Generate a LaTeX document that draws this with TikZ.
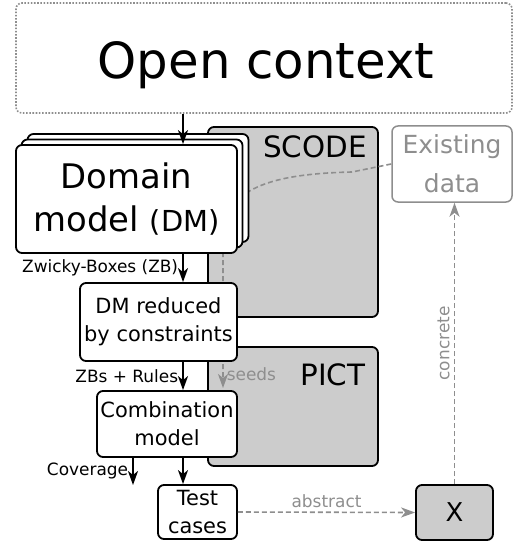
\documentclass[tikz,border=0pt]{standalone}
\usepackage{fontspec}
\setmainfont{DejaVu Sans}
\usetikzlibrary{positioning,arrows.meta}
\definecolor{toolgray}{HTML}{CCCCCC}
\definecolor{linkgray}{HTML}{8E8E8E}

\begin{document}
\begin{tikzpicture}[x=1bp, y=-1bp,
    box/.style={draw, fill=white, rounded corners=6bp, line width=1.8bp, align=center, inner sep=0pt},
    toolbox/.style={draw, fill=toolgray, rounded corners=6bp, line width=1.8bp, inner sep=0pt},
    flow/.style={-{Stealth[length=14bp,width=10bp,inset=4bp]}, line width=1.8bp},
    link/.style={-{Stealth[length=14bp,width=10bp,inset=4bp]}, linkgray, line width=1.6bp, dash pattern=on 5bp off 3bp},
    lbl/.style={font=\fontsize{17}{20}\selectfont, inner sep=4bp}]
  \useasboundingbox (0,0) rectangle (515,543);

  % tools behind the flow
  \node (scode) [toolbox, minimum width=170bp, minimum height=190bp] at (293,222) {};
  \node (pict) [toolbox, minimum width=170bp, minimum height=119bp] at (293,406.5) {};
  \node (scodelbl) [anchor=base, font=\fontsize{29.5}{35}\selectfont] at (315,158) {SCODE};
  \node (pictlbl) [anchor=base, font=\fontsize{29.5}{35}\selectfont] at (333,385) {PICT};

  \node (ctx) [draw=linkgray, line width=1.6bp, dash pattern=on 1.6bp off 1.6bp, rounded corners=6bp,
    minimum width=496bp, minimum height=110bp] at (264,58) {};
  \node (ctxlbl) [anchor=base, font=\fontsize{50}{60}\selectfont] at (266,79) {Open context};

  \node (existing) [box, draw=linkgray, text=linkgray, line width=1.5bp, minimum width=120bp, minimum height=76bp,
    font=\fontsize{25}{39}\selectfont] at (452,164) {Existing\\data};

  \coordinate (spine) at (183,0);
  \coordinate (seedend) at (223,388);
  \coordinate (covend) at (133,485);

  % seeds go behind the boxes
  \draw[link] (existing.west) -- (352,172) .. controls (262,174) and (223,192) .. (223,240)
    -- (223,361) -- node[right, lbl, inner sep=3bp, text=linkgray] {seeds} (seedend);

  % domain model stack
  \node (dmback) [box, minimum width=221bp, minimum height=108bp] at (138,188) {};
  \node (dmmid) [box, minimum width=221bp, minimum height=108bp] at (132,193.5) {};
  \node (dm) [box, minimum width=221bp, minimum height=108bp, font=\fontsize{34}{43}\selectfont]
    at (126.5,199) {Domain\\model {\fontsize{29}{32}\selectfont(DM)}};

  \node (dmred) [box, minimum width=157bp, minimum height=78bp, font=\fontsize{21}{28}\selectfont]
    at (158.5,322) {DM reduced\\by constraints};
  \node (comb) [box, minimum width=140bp, minimum height=66bp, font=\fontsize{21}{28}\selectfont]
    at (167,424) {Combination\\model};
  \node (tests) [box, minimum width=79bp, minimum height=54bp, font=\fontsize{21}{29}\selectfont]
    at (197.5,512) {Test\\cases};
  \node (xbox) [toolbox, minimum width=77bp, minimum height=55bp, font=\fontsize{26}{30}\selectfont]
    at (454.5,512.5) {X};

  % flow
  \draw[flow] (ctx.south -| spine) -- (dm.north -| spine);
  \draw[flow] (dm.south -| spine) -- node[left, lbl] {Zwicky-Boxes (ZB)} (dmred.north -| spine);
  \draw[flow] (dmred.south -| spine) -- node[left, lbl] {ZBs + Rules} (comb.north -| spine);
  \draw[flow] (comb.south -| covend) -- node[left, lbl] {Coverage} (covend);
  \draw[flow] (comb.south -| spine) -- (tests.north -| spine);

  \draw[link] (tests.east) -- node[above, lbl, text=linkgray] {abstract} (xbox.west);
  \draw[link] (xbox.north) -- node[sloped, above, lbl, text=linkgray] {concrete} (existing.south -| xbox.north);
\end{tikzpicture}
\end{document}
